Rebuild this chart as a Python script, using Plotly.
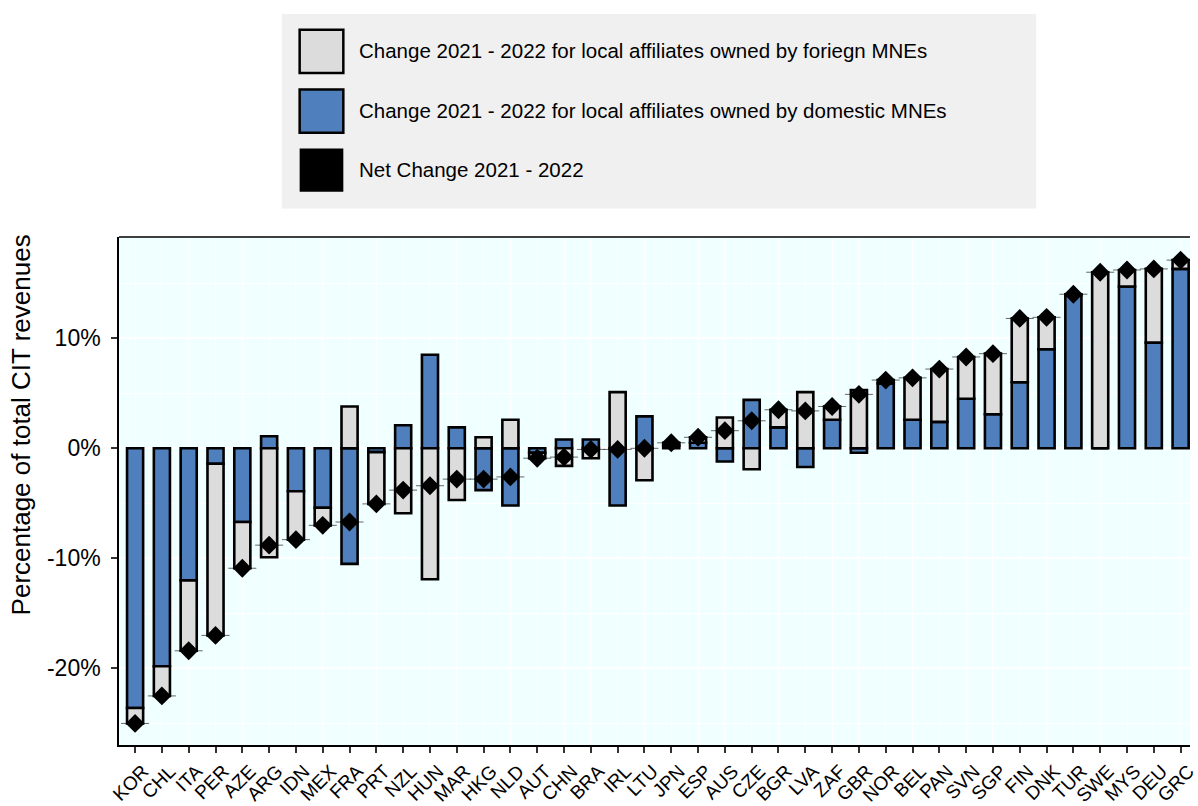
import plotly.graph_objects as go

# Country codes, ordered by net change
countries = ["KOR", "CHL", "ITA", "PER", "AZE", "ARG", "IDN", "MEX", "FRA", "PRT",
             "NZL", "HUN", "MAR", "HKG", "NLD", "AUT", "CHN", "BRA", "IRL", "LTU",
             "JPN", "ESP", "AUS", "CZE", "BGR", "LVA", "ZAF", "GBR", "NOR", "BEL",
             "PAN", "SVN", "SGP", "FIN", "DNK", "TUR", "SWE", "MYS", "DEU", "GRC"]

# Change 2021-2022 (% of total CIT revenues), local affiliates of domestic MNEs
domestic = [-23.6, -19.8, -12.0, -1.4, -6.7, 1.1, -3.9, -5.4, -10.5, -0.35,
            2.1, 8.5, 1.9, -3.8, -5.2, -0.4, 0.8, 0.8, -5.2, 2.9,
            0.25, 0.5, -1.2, 4.4, 1.9, -1.7, 2.6, -0.4, 5.9, 2.6,
            2.4, 4.5, 3.1, 6.0, 9.0, 13.9, 0.0, 14.7, 9.6, 16.3]

# Change 2021-2022, local affiliates of foreign MNEs
foreign = [-1.4, -2.7, -6.4, -15.6, -4.2, -9.9, -4.4, -1.6, 3.8, -4.7,
           -5.9, -11.9, -4.7, 1.0, 2.6, -0.5, -1.6, -0.9, 5.1, -2.9,
           0.25, 0.5, 2.8, -1.9, 1.6, 5.1, 1.2, 5.3, 0.3, 3.8,
           4.8, 3.8, 5.5, 5.8, 2.9, 0.1, 16.0, 1.5, 6.7, 0.8]

# Net change 2021-2022
net = [-25.0, -22.5, -18.4, -17.0, -10.9, -8.8, -8.3, -7.0, -6.7, -5.05,
       -3.8, -3.4, -2.8, -2.8, -2.6, -0.9, -0.8, -0.1, -0.1, 0.0,
       0.5, 1.0, 1.6, 2.5, 3.5, 3.4, 3.8, 4.9, 6.2, 6.4,
       7.2, 8.3, 8.6, 11.8, 11.9, 14.0, 16.0, 16.2, 16.3, 17.1]

y_ticks = [-20, -10, 0, 10]
y_tick_labels = ["-20%", "-10%", "0%", "10%"]

legend_labels = ["Change 2021 - 2022 for local affiliates owned by foriegn MNEs",
                 "Change 2021 - 2022 for local affiliates owned by domestic MNEs",
                 "Net Change 2021 - 2022"]

GREY = "#DCDCDC"
BLUE = "#4F80BD"
FONT = "Liberation Sans, Arial, sans-serif"

W, H = 1198, 806
ML, MR, MT, MB = 119, 0, 237, 52
PW, PH = W - ML - MR, H - MT - MB


def px_x(px):
    return (px - ML) / PW


def px_y(py):
    return (H - MB - py) / PH


xs = list(range(len(countries)))

fig = go.Figure()
fig.add_trace(go.Bar(x=xs, y=domestic, width=0.6, name=legend_labels[1],
                     marker=dict(color=BLUE, line=dict(color="black", width=2.6))))
fig.add_trace(go.Bar(x=xs, y=foreign, width=0.6, name=legend_labels[0],
                     marker=dict(color=GREY, line=dict(color="black", width=2.6))))
fig.add_trace(go.Scatter(x=xs, y=net, mode="markers", name=legend_labels[2],
                         marker=dict(symbol="line-ew", size=20,
                                     line=dict(color="black", width=0.6))))
fig.add_trace(go.Scatter(x=xs, y=net, mode="markers",
                         marker=dict(symbol="diamond", size=14.5, color="black",
                                     line=dict(width=0))))

# Legend panel drawn as shapes and text above the plot
shapes = [dict(type="rect", xref="paper", yref="paper",
               x0=px_x(283), x1=px_x(1043), y0=px_y(208), y1=px_y(10),
               fillcolor="#F0F0F0", line=dict(width=0), layer="below")]
annotations = []
key_fills = [GREY, BLUE, "black"]
key_tops = [26, 87, 147]
for fill, top, label in zip(key_fills, key_tops, legend_labels):
    shapes.append(dict(type="rect", xref="paper", yref="paper",
                       x0=px_x(301), x1=px_x(345), y0=px_y(top + 44), y1=px_y(top),
                       fillcolor=fill,
                       line=dict(color="black", width=2.5 if fill != "black" else 0)))
    annotations.append(dict(xref="paper", yref="paper", x=px_x(359), y=px_y(top + 21),
                            text=label, showarrow=False, xanchor="left", yanchor="middle",
                            font=dict(family=FONT, size=20.5, color="black")))

# Panel border on top (left and bottom come from the axis lines)
shapes.append(dict(type="line", xref="paper", yref="paper", x0=0, x1=1, y0=1, y1=1,
                   line=dict(color="black", width=1.5)))

annotations.append(dict(xref="paper", yref="paper", x=px_x(20), y=px_y(428),
                        text="Percentage of total CIT revenues", textangle=-90,
                        showarrow=False, xanchor="center", yanchor="middle",
                        font=dict(family=FONT, size=26, color="black")))

fig.update_layout(
    width=W, height=H,
    margin=dict(l=ML, r=MR, t=MT, b=MB, pad=0),
    barmode="relative",
    showlegend=False,
    paper_bgcolor="white",
    plot_bgcolor="#F0FFFF",
    shapes=shapes,
    annotations=annotations,
    font=dict(family=FONT, color="black"),
)

fig.update_xaxes(
    range=[-0.6, 39.35],
    tickmode="array", tickvals=xs, ticktext=countries,
    tickangle=-45,
    tickfont=dict(family=FONT, size=19, color="black"),
    ticklabelshift=8, ticklabeloverflow="allow",
    ticks="outside", ticklen=6, tickcolor="#333333", tickwidth=1.5,
    showgrid=True, gridcolor="white", gridwidth=1,
    showline=True, linecolor="black", linewidth=1.5,
    zeroline=False,
)

fig.update_yaxes(
    range=[-26.96, 19.2],
    tickmode="array", tickvals=y_ticks, ticktext=y_tick_labels,
    tickfont=dict(family=FONT, size=23, color="black"),
    ticks="outside", ticklen=6, tickcolor="#333333", tickwidth=1.5,
    ticklabelstandoff=6,
    showgrid=True, gridcolor="white", gridwidth=1.5,
    minor=dict(tickvals=[-25, -15, -5, 5, 15], showgrid=True,
               gridcolor="white", gridwidth=0.7),
    showline=True, linecolor="black", linewidth=1.5,
    zeroline=False,
)

fig.write_html("out.html")
